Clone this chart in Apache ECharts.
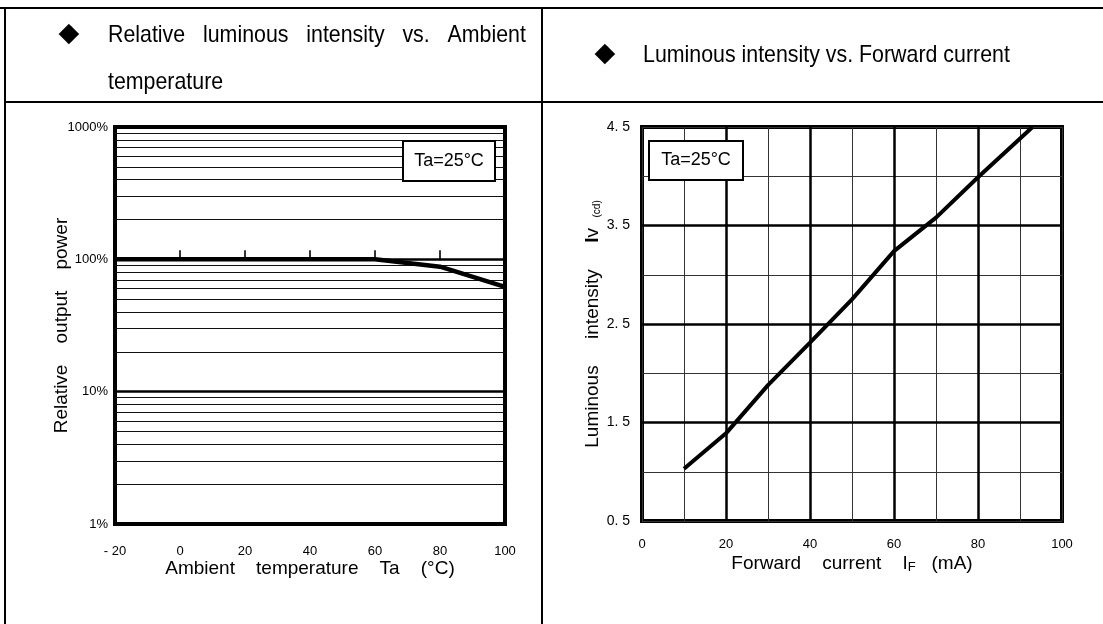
<!DOCTYPE html>
<html>
<head>
<meta charset="utf-8">
<script src="https://cdn.jsdelivr.net/npm/echarts@6/dist/echarts.min.js"></script>
<style>
  html, body { margin: 0; padding: 0; background: #fff; }
  #main { width: 1103px; height: 624px; }
</style>
</head>
<body>
<div id="main"></div>
<script>
// left chart: relative output vs ambient temperature
const tempC = [-20, 0, 20, 40, 60, 80, 100];
const relPower = [100, 100, 100, 100, 100, 88, 62];
const tickTemps = [0, 20, 40, 60, 80];
const tickLevel = [100, 100, 100, 100, 100];
const logMinor = [2, 3, 4, 5, 6, 7, 8, 9, 20, 30, 40, 50, 60, 70, 80, 90, 200, 300, 400, 500, 600, 700, 800, 900];

// right chart: luminous intensity vs forward current
const currentMA = [10, 20, 30, 40, 50, 60, 70, 80, 93];
const lumCd = [1.03, 1.39, 1.88, 2.31, 2.75, 3.24, 3.58, 3.99, 4.5];
const majorY = [1.5, 2.5, 3.5];
const majorX = [20, 40, 60, 80];

const FONT = "'Liberation Sans', Arial, sans-serif";
const HEAD = '24px ' + FONT;

const chart = echarts.init(document.getElementById('main'));

const hideMark = { show: false };

// narrow header text (no condensed font installed, so squeeze it)
function headText(x, y, text) {
    return {
        type: 'text', x: x, y: y, scaleX: 0.89,
        style: { text: text, font: HEAD, fill: '#000', verticalAlign: 'middle' }
    };
}

const option = {
    animation: false,
    backgroundColor: '#fff',
    textStyle: { fontFamily: FONT, color: '#000' },
    grid: [
        { left: 115, right: 598, top: 127, bottom: 100, show: true, borderColor: '#000', borderWidth: 4 },
        { left: 642, right: 41, top: 127, bottom: 103, show: true, borderColor: '#000', borderWidth: 4 }
    ],
    xAxis: [
        {
            gridIndex: 0, type: 'value', min: -20, max: 100, interval: 20,
            axisLine: { show: false }, axisTick: { show: false }, splitLine: { show: false },
            axisLabel: {
                color: '#000', fontSize: 13, margin: 21,
                formatter: v => v < 0 ? '- ' + Math.abs(v) : String(v)
            },
            name: 'Ambient    temperature    Ta    (°C)', nameLocation: 'middle', nameGap: 35,
            nameMoveOverlap: false,
            nameTextStyle: { color: '#000', fontSize: 19 }
        },
        {
            gridIndex: 1, type: 'value', min: 0, max: 100, interval: 10,
            axisLine: { show: false }, axisTick: { show: false },
            splitLine: { show: true, lineStyle: { color: '#333', width: 1 } },
            axisLabel: {
                color: '#000', fontSize: 13, margin: 17,
                formatter: v => v % 20 === 0 ? String(v) : ''
            },
            name: 'Forward    current    I{f|F}   (mA)', nameLocation: 'middle', nameGap: 33,
            nameMoveOverlap: false,
            nameTextStyle: {
                color: '#000', fontSize: 19,
                rich: { f: { fontSize: 13, verticalAlign: 'bottom', padding: [7, 0, 0, 0] } }
            }
        }
    ],
    yAxis: [
        {
            gridIndex: 0, type: 'log', logBase: 10, min: 1, max: 1000,
            axisLine: { show: false }, axisTick: { show: false },
            splitLine: { show: true, lineStyle: { color: '#000', width: 2.5 } },
            axisLabel: {
                color: '#000', fontSize: 13, margin: 7, padding: [9, 0, 0, 0],
                formatter: v => v + '%'
            },
            name: 'Relative    output    power', nameLocation: 'middle', nameGap: 44,
            nameMoveOverlap: false,
            nameTextStyle: { color: '#000', fontSize: 19 }
        },
        {
            gridIndex: 1, type: 'value', min: 0.5, max: 4.5, interval: 0.5,
            axisLine: { show: false }, axisTick: { show: false },
            splitLine: { show: true, lineStyle: { color: '#333', width: 1 } },
            axisLabel: {
                color: '#000', fontSize: 14, margin: 12, padding: [10, 0, 0, 0],
                formatter: v => (Math.round(v * 10) % 10 === 5) ? String(v).replace('.', '. ') : ''
            },
            name: 'Luminous     intensity     {b|I}v  {c|(cd)}', nameLocation: 'middle', nameGap: 40,
            nameMoveOverlap: false,
            nameTextStyle: {
                color: '#000', fontSize: 19,
                rich: {
                    b: { fontSize: 19, fontWeight: 'bold' },
                    c: { fontSize: 10, verticalAlign: 'bottom' }
                }
            }
        }
    ],
    series: [
        {
            type: 'line', xAxisIndex: 0, yAxisIndex: 0,
            data: tempC.map((t, i) => [t, relPower[i]]),
            symbol: 'none', lineStyle: { color: '#000', width: 4.5 }, z: 5,
            markLine: {
                silent: true, symbol: ['none', 'none'], label: hideMark,
                lineStyle: { type: 'solid', color: '#111', width: 1 },
                data: logMinor.map(v => ({ yAxis: v }))
            }
        },
        {
            type: 'scatter', xAxisIndex: 0, yAxisIndex: 0,
            data: tickTemps.map((t, i) => [t, tickLevel[i]]),
            symbol: 'rect', symbolSize: [2, 10], symbolOffset: [0, -4],
            itemStyle: { color: '#000' }, z: 4
        },
        {
            type: 'line', xAxisIndex: 1, yAxisIndex: 1,
            data: currentMA.map((c, i) => [c, lumCd[i]]),
            symbol: 'none', lineStyle: { color: '#000', width: 4 }, z: 5,
            markLine: {
                silent: true, symbol: ['none', 'none'], label: hideMark,
                lineStyle: { type: 'solid', color: '#000', width: 2.5 },
                data: majorY.map(v => ({ yAxis: v })).concat(majorX.map(v => ({ xAxis: v })))
            }
        }
    ],
    graphic: [
        // table frame
        { type: 'line', shape: { x1: 0, y1: 8, x2: 1103, y2: 8 }, style: { stroke: '#000', lineWidth: 2 } },
        { type: 'line', shape: { x1: 5, y1: 102, x2: 1103, y2: 102 }, style: { stroke: '#000', lineWidth: 2 } },
        { type: 'line', shape: { x1: 5, y1: 7, x2: 5, y2: 624 }, style: { stroke: '#000', lineWidth: 2 } },
        { type: 'line', shape: { x1: 542, y1: 7, x2: 542, y2: 624 }, style: { stroke: '#000', lineWidth: 2 } },
        // headers
        { type: 'text', x: 69, y: 34, style: { text: '◆', font: '27px DejaVu Sans', fill: '#000', align: 'center', verticalAlign: 'middle' } },
        headText(108, 35, 'Relative   luminous   intensity   vs.   Ambient'),
        headText(108, 82, 'temperature'),
        { type: 'text', x: 605, y: 54, style: { text: '◆', font: '27px DejaVu Sans', fill: '#000', align: 'center', verticalAlign: 'middle' } },
        headText(643, 55, 'Luminous intensity vs. Forward current'),
        // condition boxes
        { type: 'rect', shape: { x: 403, y: 141, width: 92, height: 40 }, style: { fill: '#fff', stroke: '#000', lineWidth: 2 }, z: 10 },
        { type: 'text', x: 449, y: 161, z: 11, style: { text: 'Ta=25°C', font: '18px ' + FONT, fill: '#000', align: 'center', verticalAlign: 'middle' } },
        { type: 'rect', shape: { x: 649, y: 141, width: 94, height: 39 }, style: { fill: '#fff', stroke: '#000', lineWidth: 2 }, z: 10 },
        { type: 'text', x: 696, y: 160, z: 11, style: { text: 'Ta=25°C', font: '18px ' + FONT, fill: '#000', align: 'center', verticalAlign: 'middle' } }
    ]
};

chart.setOption(option);
</script>
</body>
</html>
